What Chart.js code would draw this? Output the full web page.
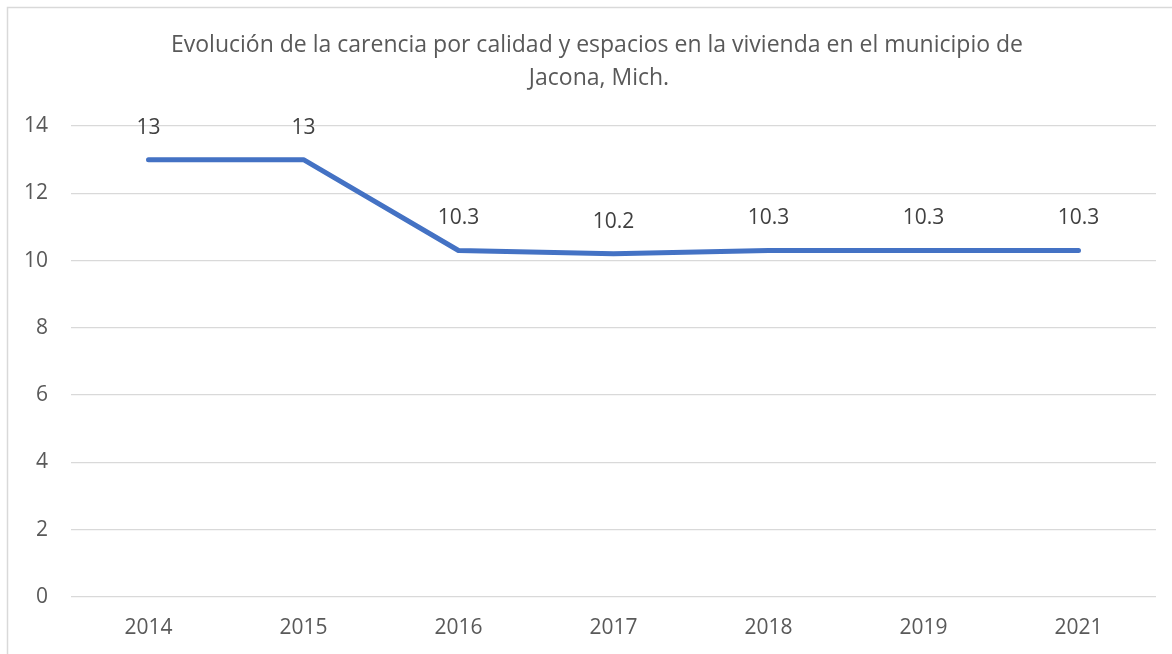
<!DOCTYPE html>
<html><head><meta charset="utf-8">
<script src="https://cdn.jsdelivr.net/npm/chart.js@4/dist/chart.umd.min.js"></script>
<style>html,body{margin:0;padding:0;background:#fff}#wrap{width:1172px;height:654px;position:relative}</style>
</head><body><div id="wrap"><canvas id="c" width="1172" height="654"></canvas></div>
<script>
const categories = ['2014','2015','2016','2017','2018','2019','2021'];
const values = [13, 13, 10.3, 10.2, 10.3, 10.3, 10.3];
const titleLines = ['Evolución de la carencia por calidad y espacios en la vivienda en el municipio de', 'Jacona, Mich.'];
const yMin = 0, yMax = 14, yStep = 2;
const FONT = '"Open Sans", Lato, sans-serif';

const frame = {
  id: 'frame',
  beforeDraw(chart) {
    const ctx = chart.ctx;
    ctx.save();
    ctx.fillStyle = '#fff';
    ctx.fillRect(0, 0, chart.width, chart.height);
    ctx.strokeStyle = '#d9d9d9';
    ctx.lineWidth = 1.5;
    ctx.strokeRect(7.5, 7.5, chart.width + 20, chart.height + 20);
    ctx.restore();
  },
  afterDraw(chart) {
    const ctx = chart.ctx;
    ctx.save();
    ctx.font = '23px ' + FONT;
    ctx.fillStyle = '#595959';
    ctx.textAlign = 'center';
    ctx.textBaseline = 'middle';
    ctx.fillText(titleLines[0], 597, 45);
    ctx.fillText(titleLines[1], 599, 78);
    ctx.restore();
  }
};
const labels = {
  id: 'labels',
  afterDatasetsDraw(chart) {
    const ctx = chart.ctx;
    const meta = chart.getDatasetMeta(0);
    ctx.save();
    ctx.font = '21px ' + FONT;
    ctx.fillStyle = '#404040';
    ctx.textAlign = 'center';
    ctx.textBaseline = 'middle';
    meta.data.forEach((p, i) => {
      ctx.fillText(String(values[i]), p.x, p.y - 32);
    });
    ctx.restore();
  }
};

new Chart(document.getElementById('c'), {
  type: 'line',
  data: { labels: categories, datasets: [{
    data: values, borderColor: '#4472C4', borderWidth: 5, pointRadius: 0,
    tension: 0, borderCapStyle: 'round', borderJoinStyle: 'round', fill: false
  }]},
  options: {
    responsive: false, animation: false,
    layout: { padding: { left: 0, right: 16, top: 126, bottom: 0 } },
    plugins: {
      legend: { display: false }, tooltip: { enabled: false },
      title: { display: false }
    },
    scales: {
      x: { offset: true,
        grid: { display: false, drawTicks: false }, border: { display: false },
        ticks: { color: '#595959', font: { family: FONT, size: 21 }, padding: 18, maxRotation: 0 },
        afterFit(s) { s.height = 57; } },
      y: { min: yMin, max: yMax,
        grid: { color: '#d9d9d9', lineWidth: 1.3, drawTicks: false }, border: { display: false },
        ticks: { stepSize: yStep, color: '#595959', font: { family: FONT, size: 21 }, padding: 23 },
        afterFit(s) { s.width = 71; } }
    }
  },
  plugins: [frame, labels]
});
</script></body></html>
